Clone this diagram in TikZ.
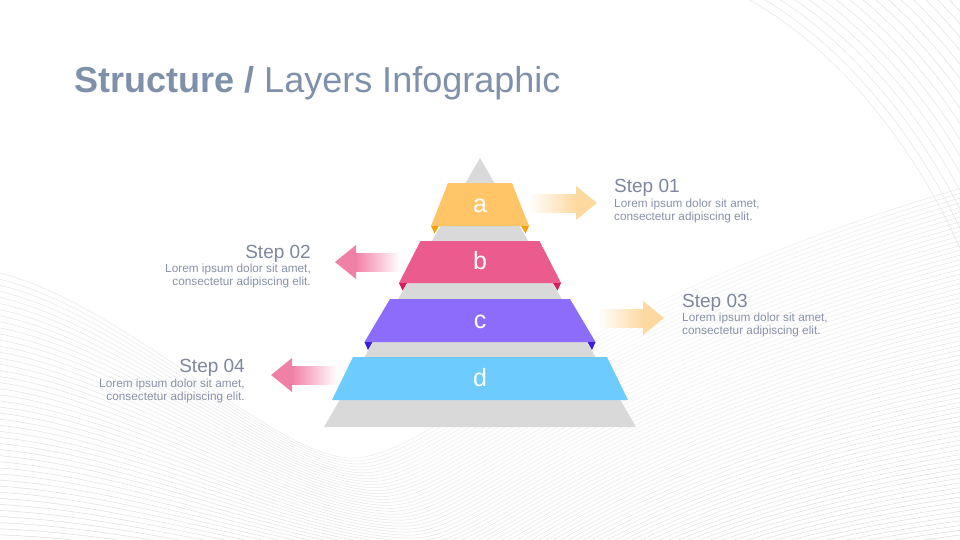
\documentclass[tikz,border=0pt]{standalone}
\usepackage{fontspec}
\setmainfont{Liberation Sans}
\usetikzlibrary{fadings}
\definecolor{bgl}{RGB}{204,204,204}
\definecolor{titlecol}{RGB}{127,144,171}
\definecolor{stepcol}{RGB}{126,135,156}
\definecolor{loremcol}{RGB}{136,146,168}
\definecolor{pyrgray}{RGB}{217,217,217}
\definecolor{cola}{RGB}{255,197,102}
\definecolor{folda}{RGB}{245,162,10}
\definecolor{colb}{RGB}{236,91,141}
\definecolor{foldb}{RGB}{214,30,95}
\definecolor{colc}{RGB}{140,109,251}
\definecolor{foldc}{RGB}{58,29,224}
\definecolor{cold}{RGB}{109,203,253}
\definecolor{peach}{RGB}{253,217,160}
\definecolor{pinkarr}{RGB}{240,128,165}
\tikzfading[name=centerfade, inner color=transparent!0, outer color=transparent!100]
\begin{document}
\begin{tikzpicture}[x=1pt,y=-1pt,
  bgline/.style={draw=bgl, line width=0.45pt},
  letter/.style={text=white, font=\fontsize{25}{28}\selectfont, inner sep=0pt, anchor=base},
  steptitle/.style={text=stepcol, font=\fontsize{19}{22}\selectfont, inner sep=0pt},
  lorem/.style={text=loremcol, font=\fontsize{11.8}{13}\selectfont, inner sep=0pt}]
\useasboundingbox (0,0) rectangle (960,540);
\fill[white] (0,0) rectangle (960,540);
% background wave lines
\begin{scope}
\clip (0,0) rectangle (960,540);
\foreach \i in {0,...,80}{
  \pgfmathsetmacro\t{\i/54}
  \draw[bgline] (-5,272+330*\t) .. controls (120+40*\t,300+300*\t) and (270+80*\t,455+170*\t) .. (350+130*\t,458+160*\t)
     .. controls (430+120*\t,461+150*\t) and (560+60*\t,300+200*\t) .. (990,180+260*\t);
}
\foreach \j in {0,...,40}{
  \draw[bgline] (740+7*\j,-5-5*\j) .. controls (830+7*\j,40-5*\j) and (940+7*\j,160-5*\j) .. (990+7*\j,330-5*\j);
}
\fill[white, path fading=centerfade] (480,230) ellipse [x radius=880pt, y radius=560pt];
\end{scope}
% title
\node[anchor=base west, inner sep=0pt, text=titlecol, font=\fontsize{36}{40}\selectfont] (title) at (74,93) {\textbf{Structure /} Layers Infographic};
% pyramid
\fill[pyrgray] (480,158) -- (636,427) -- (324,427) -- cycle;
\fill[cola] (448,183) -- (512,183) -- (529,226) -- (431,226) -- cycle;
\fill[folda] (431,226) -- (439,226) -- (434.5,233.5) -- cycle;
\fill[folda] (529,226) -- (521,226) -- (525.5,233.5) -- cycle;
\fill[colb] (420.5,241) -- (539.5,241) -- (561,283) -- (399,283) -- cycle;
\fill[foldb] (399,283) -- (407,283) -- (402.5,290.5) -- cycle;
\fill[foldb] (561,283) -- (553,283) -- (557.5,290.5) -- cycle;
\fill[colc] (390,299) -- (570,299) -- (595.5,342) -- (364.5,342) -- cycle;
\fill[foldc] (364.5,342) -- (372.5,342) -- (368,350) -- cycle;
\fill[foldc] (595.5,342) -- (587.5,342) -- (592,350) -- cycle;
\fill[cold] (353,357) -- (607,357) -- (628,400) -- (332,400) -- cycle;
\node[letter] (la) at (480,212) {a};
\node[letter] (lb) at (480,269.5) {b};
\node[letter] (lc) at (480,328) {c};
\node[letter] (ld) at (480,386) {d};
% arrows
\shade[left color=white, right color=peach] (528,194) rectangle (576.5,212);
\fill[peach] (576,186) -- (597,203) -- (576,220) -- cycle;
\shade[left color=white, right color=peach] (598,309) rectangle (643.5,327);
\fill[peach] (643,301) -- (664,318) -- (643,335) -- cycle;
\shade[left color=pinkarr, right color=white] (355.5,253) rectangle (400,271);
\fill[pinkarr] (356,245) -- (335,262) -- (356,279) -- cycle;
\shade[left color=pinkarr, right color=white] (291.5,366) rectangle (337,384);
\fill[pinkarr] (292,358) -- (271,375) -- (292,392) -- cycle;
% texts (base anchor of a two-line node = baseline of its last line)
\node[steptitle, anchor=base west] (s1) at (614,192) {Step 01};
\node[lorem, anchor=base west, align=left] (t1) at (614,220.5) {Lorem ipsum dolor sit amet,\\consectetur adipiscing elit.};
\node[steptitle, anchor=base east] (s2) at (311,258) {Step 02};
\node[lorem, anchor=base east, align=right] (t2) at (311,285) {Lorem ipsum dolor sit amet,\\consectetur adipiscing elit.};
\node[steptitle, anchor=base west] (s3) at (682,307.5) {Step 03};
\node[lorem, anchor=base west, align=left] (t3) at (682,334) {Lorem ipsum dolor sit amet,\\consectetur adipiscing elit.};
\node[steptitle, anchor=base east] (s4) at (245,372) {Step 04};
\node[lorem, anchor=base east, align=right] (t4) at (245,400) {Lorem ipsum dolor sit amet,\\consectetur adipiscing elit.};
\end{tikzpicture}
\end{document}
